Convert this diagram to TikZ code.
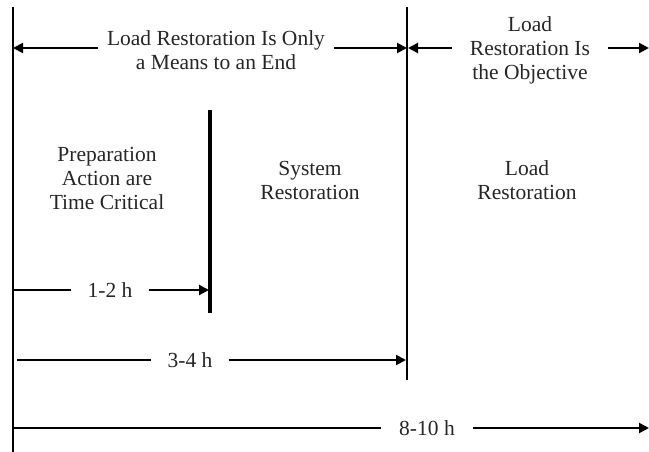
\documentclass[tikz,border=0pt]{standalone}
\usepackage{fontspec}
\setmainfont{Liberation Serif}
\usetikzlibrary{arrows.meta}
\begin{document}
\begin{tikzpicture}[x=1pt,y=-1pt,
  txt/.style={font=\fontsize{21.5}{24}\selectfont, align=center, inner sep=0pt, text=black!85},
  lbl/.style={txt, inner xsep=16pt},
  bar/.style={line width=2pt},
  thickbar/.style={line width=4pt},
  span/.style={line width=2pt},
  arr/.style={span, -{Triangle[length=10pt,width=10pt]}}]
\useasboundingbox (0,0) rectangle (649,452);

% phase boundaries
\coordinate (Ltop) at (13,7);
\coordinate (Lbot) at (13,452);
\coordinate (Mtop) at (210,110);
\coordinate (Mbot) at (210,313);
\coordinate (Rtop) at (407,7);
\coordinate (Rbot) at (407,380);
\draw[bar] (Ltop) -- (Lbot);
\draw[thickbar] (Mtop) -- (Mbot);
\draw[bar] (Rtop) -- (Rbot);

% top spans
\node[txt, inner xsep=9pt] (means) at (216,50) {Load Restoration Is Only\\a Means to an End};
\coordinate (meansL) at (13,48);
\coordinate (meansR) at (407,48);
\draw[arr] (means.west |- meansL) -- (meansL);
\draw[arr] (means.east |- meansR) -- (meansR);

\node[txt] (obj) at (530,50) {Load\\Restoration Is\\the Objective};
\coordinate (objL) at (408,48);
\coordinate (objLa) at (452,48);
\coordinate (objR) at (649,48);
\coordinate (objRa) at (608,48);
\draw[arr] (objLa) -- (objL);
\draw[arr] (objRa) -- (objR);

% phase descriptions
\node[txt] (prep) at (107,178) {Preparation\\Action are\\Time Critical};
\node[txt] (sys) at (310,180) {System\\Restoration};
\node[txt] (load) at (527,180) {Load\\Restoration};

% durations
\node[lbl] (h12) at (110,290) {1-2 h};
\coordinate (h12s) at (13,290);
\coordinate (h12e) at (209,290);
\draw[span] (h12s) -- (h12.west);
\draw[arr] (h12.east) -- (h12e);

\node[lbl] (h34) at (190,360) {3-4 h};
\coordinate (h34s) at (17,360);
\coordinate (h34e) at (406,360);
\draw[span] (h34s) -- (h34.west);
\draw[arr] (h34.east) -- (h34e);

\node[lbl, inner xsep=18pt] (h810) at (427,428) {8-10 h};
\coordinate (h810s) at (13,428);
\coordinate (h810e) at (649,428);
\draw[span] (h810s) -- (h810.west);
\draw[arr] (h810.east) -- (h810e);
\end{tikzpicture}
\end{document}
